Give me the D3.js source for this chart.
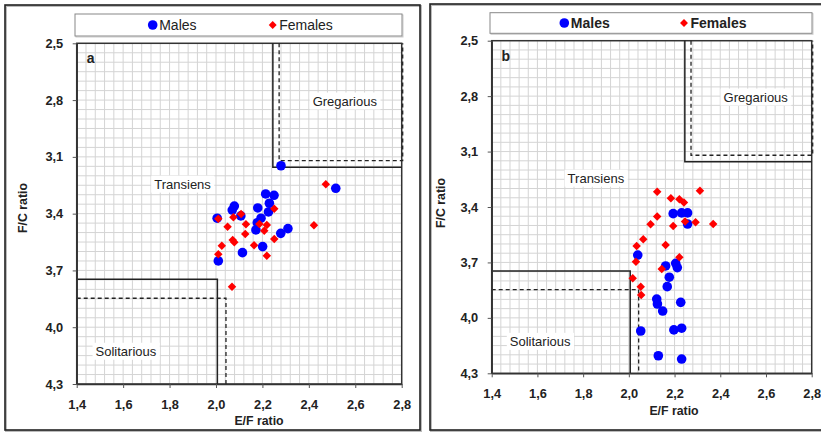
<!DOCTYPE html>
<html>
<head>
<meta charset="utf-8">
<script src="https://cdn.jsdelivr.net/npm/d3@7"></script>
<style>
  body { margin: 0; background: #fff; }
  svg { display: block; font-family: "Liberation Sans", Arial, sans-serif; }
</style>
</head>
<body>
<svg id="chart" width="821" height="432"></svg>
<script>
// tick labels
var xTicks = [1.4, 1.6, 1.8, 2.0, 2.2, 2.4, 2.6, 2.8];
var yTicks = [2.5, 2.8, 3.1, 3.4, 3.7, 4.0, 4.3];
var seriesNames = ["Males", "Females"];
var zoneNames = ["Transiens", "Gregarious", "Solitarious"];

// panel a - males [E/F, F/C]
var maleA = [
  [2.28, 3.147], [2.516, 3.266], [2.214, 3.296], [2.25, 3.303], [2.23, 3.345],
  [2.079, 3.36], [2.07, 3.381], [2.18, 3.37], [2.226, 3.391], [2.107, 3.412],
  [2.005, 3.424], [2.194, 3.424], [2.178, 3.448], [2.172, 3.486], [2.31, 3.479],
  [2.279, 3.504], [2.201, 3.574], [2.114, 3.606], [2.01, 3.65]
];
// panel a - females
var femaleA = [
  [2.473, 3.245], [2.251, 3.374], [2.108, 3.402], [2.075, 3.419], [2.01, 3.427],
  [2.129, 3.456], [2.05, 3.469], [2.187, 3.455], [2.219, 3.46], [2.422, 3.461],
  [2.208, 3.49], [2.126, 3.507], [2.251, 3.534], [2.072, 3.539], [2.079, 3.551],
  [2.164, 3.567], [2.025, 3.569], [2.01, 3.615], [2.219, 3.622], [2.069, 3.786]
];
// panel b - males
var maleB = [
  [2.194, 3.436], [2.231, 3.432], [2.257, 3.432], [2.257, 3.492], [2.039, 3.66],
  [2.161, 3.719], [2.205, 3.705], [2.212, 3.728], [2.177, 3.78], [2.168, 3.831],
  [2.122, 3.898], [2.125, 3.925], [2.148, 3.963], [2.227, 3.916], [2.052, 4.071],
  [2.197, 4.065], [2.231, 4.056], [2.129, 4.205], [2.231, 4.223]
];
// panel b - females
var femaleB = [
  [2.124, 3.317], [2.311, 3.312], [2.184, 3.353], [2.221, 3.358], [2.241, 3.375],
  [2.124, 3.452], [2.095, 3.494], [2.194, 3.503], [2.246, 3.479], [2.292, 3.483],
  [2.369, 3.492], [2.063, 3.575], [2.034, 3.611], [2.161, 3.606], [2.221, 3.672],
  [2.031, 3.696], [2.144, 3.735], [2.017, 3.786], [2.052, 3.831], [2.054, 3.876]
];

// zone limits
var gregSolid = [2.245, 3.155], gregDash = [2.272, 3.12];
var soliSolid = [2.006, 3.747], soliDash = [2.043, 3.847];
var zoneSpots = [[1.856, 3.244], [2.555, 2.805], [1.612, 4.127]];

var fmt = function(d) { return d3.format(".1f")(d).replace(".", ","); };

var svg = d3.select("#chart");

var panels = [
  {id: "a", frame: [5, 5, 415, 425], legend: [75, 14, 327, 22], legendBold: false,
   plot: {l: 76.7, r: 401.7, t: 43.3, b: 384}, males: maleA, females: femaleA,
   legX: [152.7, 272.7], xTitle: [259, 421], yTitle: [23, 208]},
  {id: "b", frame: [430, 4, 420, 426], legend: [490, 12.7, 322, 20.6], legendBold: true,
   plot: {l: 491.7, r: 811.7, t: 40.7, b: 373.3}, males: maleB, females: femaleB,
   legX: [564.3, 684], xTitle: [674, 411], yTitle: [441, 203]}
];

panels.forEach(function(p) {
  // outer frame
  svg.append("rect")
     .attr("x", p.frame[0] + 1).attr("y", p.frame[1] + 1)
     .attr("width", p.frame[2]).attr("height", p.frame[3])
     .attr("fill", "none").attr("stroke", "#bbb").attr("stroke-width", 2);
  svg.append("rect")
     .attr("x", p.frame[0]).attr("y", p.frame[1])
     .attr("width", p.frame[2]).attr("height", p.frame[3])
     .attr("fill", "none").attr("stroke", "#222").attr("stroke-width", 1.6);

  var x = d3.scaleLinear().domain([1.4, 2.8]).range([p.plot.l, p.plot.r]);
  var y = d3.scaleLinear().domain([2.5, 4.3]).range([p.plot.t, p.plot.b]);

  var g = svg.append("g");

  // minor grid
  var gx = d3.range(0, 36).map(function(i) { return 1.4 + i * 0.04; });
  var gy = d3.range(0, 37).map(function(i) { return 2.5 + i * 0.05; });
  g.selectAll(".gx").data(gx).enter().append("line")
   .attr("x1", function(d) { return x(d); }).attr("x2", function(d) { return x(d); })
   .attr("y1", p.plot.t).attr("y2", p.plot.b)
   .attr("stroke", "#d4d4d4").attr("stroke-width", 1);
  g.selectAll(".gy").data(gy).enter().append("line")
   .attr("y1", function(d) { return y(d); }).attr("y2", function(d) { return y(d); })
   .attr("x1", p.plot.l).attr("x2", p.plot.r)
   .attr("stroke", "#d4d4d4").attr("stroke-width", 1);

  // plot border
  g.append("rect")
   .attr("x", p.plot.l).attr("y", p.plot.t)
   .attr("width", p.plot.r - p.plot.l).attr("height", p.plot.b - p.plot.t)
   .attr("fill", "none").attr("stroke", "#333").attr("stroke-width", 1.5);

  // zones
  g.append("path")
   .attr("d", "M" + x(gregSolid[0]) + "," + y(2.5) + "V" + y(gregSolid[1]) + "H" + x(2.8))
   .attr("fill", "none").attr("stroke", "#222").attr("stroke-width", 1.5);
  g.append("path")
   .attr("d", "M" + x(gregDash[0]) + "," + y(2.5) + "V" + y(gregDash[1]) + "H" + (x(2.8) + 1) + "V" + y(2.5))
   .attr("fill", "none").attr("stroke", "#222").attr("stroke-width", 1.3)
   .attr("stroke-dasharray", "4,3");
  g.append("path")
   .attr("d", "M" + x(1.4) + "," + y(soliSolid[1]) + "H" + x(soliSolid[0]) + "V" + y(4.3))
   .attr("fill", "none").attr("stroke", "#222").attr("stroke-width", 1.5);
  g.append("path")
   .attr("d", "M" + x(1.4) + "," + y(soliDash[1]) + "H" + x(soliDash[0]) + "V" + y(4.3))
   .attr("fill", "none").attr("stroke", "#222").attr("stroke-width", 1.3)
   .attr("stroke-dasharray", "4,3");

  // zone labels with white backing
  zoneNames.forEach(function(name, i) {
    var t = g.append("text")
      .attr("x", x(zoneSpots[i][0])).attr("y", y(zoneSpots[i][1]))
      .attr("text-anchor", "middle").attr("dominant-baseline", "central")
      .attr("font-size", 13).attr("fill", "#222").text(name);
    var bb = t.node().getBBox();
    g.insert("rect", function() { return t.node(); })
      .attr("x", bb.x - 3).attr("y", bb.y - 1)
      .attr("width", bb.width + 6).attr("height", bb.height + 2)
      .attr("fill", "#fff");
  });

  // panel letter
  g.append("text")
   .attr("x", p.plot.l + 14).attr("y", p.plot.t + 15)
   .attr("text-anchor", "middle").attr("dominant-baseline", "central")
   .attr("font-size", 14).attr("font-weight", "bold").attr("fill", "#222")
   .text(p.id);

  // axes
  var xAxis = d3.axisBottom(x).tickValues(xTicks).tickFormat(fmt)
                .tickSize(4).tickSizeOuter(0).tickPadding(12);
  var yAxis = d3.axisLeft(y).tickValues(yTicks).tickFormat(fmt)
                .tickSize(4).tickSizeOuter(0).tickPadding(9.5);
  var xa = g.append("g").attr("transform", "translate(0," + p.plot.b + ")").call(xAxis);
  var ya = g.append("g").attr("transform", "translate(" + p.plot.l + ",0)").call(yAxis);
  [xa, ya].forEach(function(a) {
    a.select(".domain").attr("stroke", "#333").attr("stroke-width", 1.5);
    a.selectAll(".tick line").attr("stroke", "#555");
    a.selectAll(".tick text").attr("font-size", 12.8).attr("font-weight", "bold")
     .attr("fill", "#222").attr("font-family", "Liberation Sans, Arial, sans-serif");
  });

  // axis titles
  g.append("text")
   .attr("x", p.xTitle[0]).attr("y", p.xTitle[1])
   .attr("text-anchor", "middle").attr("dominant-baseline", "central")
   .attr("font-size", 12.3).attr("font-weight", "bold").attr("fill", "#222")
   .text("E/F ratio");
  g.append("text")
   .attr("transform", "translate(" + p.yTitle[0] + "," + p.yTitle[1] + ")rotate(-90)")
   .attr("text-anchor", "middle").attr("dominant-baseline", "central")
   .attr("font-size", 12.3).attr("font-weight", "bold").attr("fill", "#222")
   .text("F/C ratio");

  // points
  g.selectAll(".male").data(p.males).enter().append("circle")
   .attr("cx", function(d) { return x(d[0]); })
   .attr("cy", function(d) { return y(d[1]); })
   .attr("r", 4.8).attr("fill", "#0000ff");
  g.selectAll(".female").data(p.females).enter().append("path")
   .attr("d", d3.symbol().type(d3.symbolDiamond2).size(46))
   .attr("transform", function(d) { return "translate(" + x(d[0]) + "," + y(d[1]) + ")"; })
   .attr("fill", "#ff0000");

  // legend
  svg.append("rect")
     .attr("x", p.legend[0] + 1).attr("y", p.legend[1] + 1)
     .attr("width", p.legend[2]).attr("height", p.legend[3])
     .attr("fill", "none").attr("stroke", "#ccc").attr("stroke-width", 1);
  svg.append("rect")
     .attr("x", p.legend[0]).attr("y", p.legend[1])
     .attr("width", p.legend[2]).attr("height", p.legend[3])
     .attr("fill", "#fff").attr("stroke", "#888").attr("stroke-width", 1);
  var ly = p.legend[1] + p.legend[3] / 2;
  svg.append("circle").attr("cx", p.legX[0]).attr("cy", ly).attr("r", 4.8).attr("fill", "#0000ff");
  svg.append("path")
     .attr("d", d3.symbol().type(d3.symbolDiamond2).size(40))
     .attr("transform", "translate(" + p.legX[1] + "," + ly + ")")
     .attr("fill", "#ff0000");
  seriesNames.forEach(function(name, i) {
    svg.append("text")
       .attr("x", p.legX[i] + 6.5).attr("y", ly)
       .attr("dominant-baseline", "central")
       .attr("font-size", 14).attr("font-weight", p.legendBold ? "bold" : "normal")
       .attr("fill", "#222").text(name);
  });
});
</script>
</body>
</html>
